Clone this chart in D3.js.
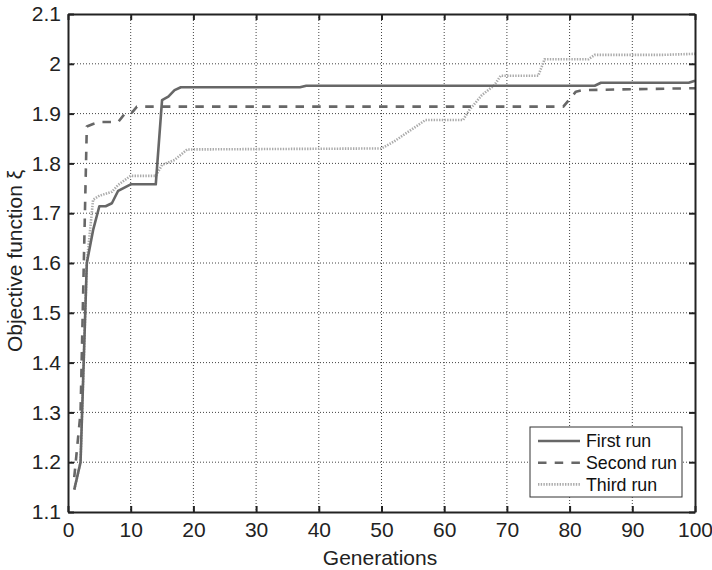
<!DOCTYPE html>
<html>
<head>
<meta charset="utf-8">
<script src="https://cdn.jsdelivr.net/npm/d3@7"></script>
<style>
  body { margin: 0; background: #fff; }
  svg { display: block; font-family: "Liberation Sans", Arial, sans-serif; }
</style>
</head>
<body>
<svg id="chart"></svg>
<script>
// breakpoints (generation, objective value)
const firstGen = [1, 2, 3, 4, 5, 6, 7, 8, 10, 14, 15, 16, 17, 18, 37, 38, 84, 85, 99, 100];
const firstVal = [1.145, 1.2, 1.6, 1.666, 1.714, 1.714, 1.72, 1.745, 1.758, 1.758, 1.927, 1.934, 1.947, 1.953, 1.953, 1.956, 1.956, 1.962, 1.962, 1.966];

const secondGen = [1, 2, 3, 4, 5, 8, 9, 10, 11, 79, 81, 82, 90, 100];
const secondVal = [1.17, 1.3, 1.874, 1.879, 1.883, 1.883, 1.899, 1.899, 1.914, 1.914, 1.944, 1.947, 1.949, 1.951];

const thirdGen = [1, 2, 3, 4, 5, 7, 8, 10, 14, 15, 17, 19, 50, 52, 57, 63, 64, 66, 68, 69, 75, 76, 83, 84, 95, 100];
const thirdVal = [1.145, 1.2, 1.6, 1.727, 1.735, 1.743, 1.757, 1.775, 1.775, 1.797, 1.807, 1.828, 1.83, 1.844, 1.887, 1.887, 1.907, 1.937, 1.957, 1.976, 1.976, 2.009, 2.009, 2.018, 2.018, 2.02];

const runNames = ["First run", "Second run", "Third run"];
const xTicks = [0, 10, 20, 30, 40, 50, 60, 70, 80, 90, 100];
const yTicks = [1.1, 1.2, 1.3, 1.4, 1.5, 1.6, 1.7, 1.8, 1.9, 2, 2.1];

const width = 712, height = 570;
const margin = {top: 14, right: 17, bottom: 58, left: 68};
const innerW = width - margin.left - margin.right;
const innerH = height - margin.top - margin.bottom;

const svg = d3.select("#chart").attr("width", width).attr("height", height);
const g = svg.append("g").attr("transform", `translate(${margin.left},${margin.top})`);

const x = d3.scaleLinear().domain([0, 100]).range([0, innerW]);
const y = d3.scaleLinear().domain([1.1, 2.1]).range([innerH, 0]);

// dotted grid
g.append("g").selectAll("line")
  .data(xTicks.slice(1, -1))
  .join("line")
  .attr("x1", d => x(d)).attr("x2", d => x(d))
  .attr("y1", 0).attr("y2", innerH)
  .attr("stroke", "#444").attr("stroke-width", 1)
  .attr("stroke-dasharray", "1,2");

g.append("g").selectAll("line")
  .data(yTicks.slice(1, -1))
  .join("line")
  .attr("y1", d => y(d)).attr("y2", d => y(d))
  .attr("x1", 0).attr("x2", innerW)
  .attr("stroke", "#444").attr("stroke-width", 1)
  .attr("stroke-dasharray", "1,2");

// runs
const zip = (a, b) => a.map((v, i) => [v, b[i]]);
const runs = [
  {pts: zip(firstGen, firstVal), color: "#676767", dash: null},
  {pts: zip(secondGen, secondVal), color: "#676767", dash: "8.5,8.2"},
  {pts: zip(thirdGen, thirdVal), color: "#ababab", dash: "1.4,1.3"}
];

const line = d3.line().x(d => x(d[0])).y(d => y(d[1]));

// draw third first so the darker lines sit above it
[2, 1, 0].forEach(i => {
  g.append("path")
    .datum(runs[i].pts)
    .attr("d", line)
    .attr("fill", "none")
    .attr("stroke", runs[i].color)
    .attr("stroke-width", 2.6)
    .attr("stroke-linejoin", "round")
    .attr("stroke-dasharray", runs[i].dash);
});

// axes with inward ticks on all four sides
const tickFmt = d => d3.format("")(+d.toFixed(1));
const xAxisB = d3.axisBottom(x).tickValues(xTicks).tickSize(-6).tickSizeOuter(0).tickPadding(10);
const xAxisT = d3.axisTop(x).tickValues(xTicks).tickSize(-6).tickSizeOuter(0).tickFormat("");
const yAxisL = d3.axisLeft(y).tickValues(yTicks).tickSize(-6).tickSizeOuter(0).tickPadding(7).tickFormat(tickFmt);
const yAxisR = d3.axisRight(y).tickValues(yTicks).tickSize(-6).tickSizeOuter(0).tickFormat("");

const styleAxis = sel => {
  sel.select(".domain").attr("stroke", "#222").attr("stroke-width", 2);
  sel.selectAll(".tick line").attr("stroke", "#222").attr("stroke-width", 2);
  sel.selectAll("text").attr("fill", "#222").style("font-size", "21px");
};

g.append("g").attr("transform", `translate(0,${innerH})`).call(xAxisB).call(styleAxis);
g.append("g").call(xAxisT).call(styleAxis);
g.append("g").call(yAxisL).call(styleAxis);
g.append("g").attr("transform", `translate(${innerW},0)`).call(yAxisR).call(styleAxis);

// axis titles
svg.append("text")
  .attr("x", 380).attr("y", 565)
  .attr("text-anchor", "middle")
  .style("font-size", "21px").attr("fill", "#222")
  .text("Generations");

svg.append("text")
  .attr("transform", "translate(22,261) rotate(-90)")
  .attr("text-anchor", "middle")
  .style("font-size", "21px").attr("fill", "#222")
  .text("Objective function ξ");

// legend
const legend = svg.append("g").attr("transform", "translate(530,427)");
legend.append("rect")
  .attr("width", 152).attr("height", 70)
  .attr("fill", "#fff").attr("stroke", "#333").attr("stroke-width", 1);

runNames.forEach((name, i) => {
  const ly = 14 + i * 21.7;
  legend.append("line")
    .attr("x1", 8).attr("x2", 50).attr("y1", ly).attr("y2", ly)
    .attr("stroke", runs[i].color).attr("stroke-width", 2.6)
    .attr("stroke-dasharray", runs[i].dash);
  legend.append("text")
    .attr("x", 56).attr("y", ly).attr("dy", "0.35em")
    .style("font-size", "17.8px").attr("fill", "#111")
    .text(name);
});
</script>
</body>
</html>
